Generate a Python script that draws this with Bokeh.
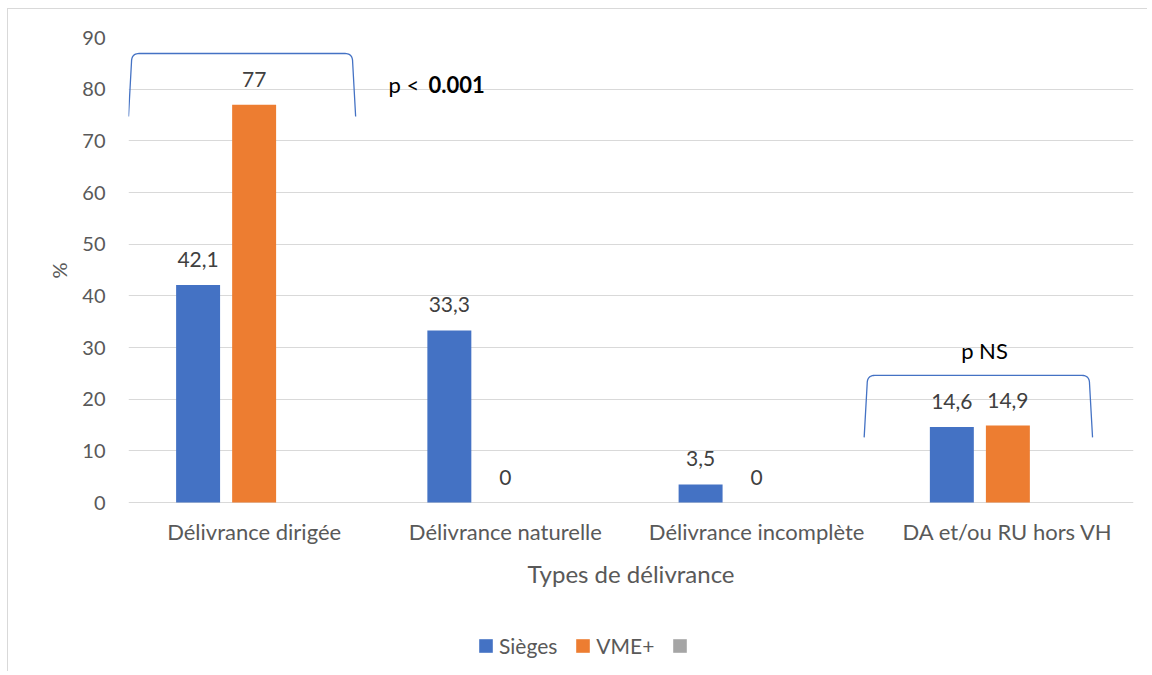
import numpy as np
from bokeh.plotting import figure
from bokeh.models import (ColumnDataSource, FixedTicker, Legend, LegendItem, Label, Range1d, Title)
from bokeh.core.properties import value
from bokeh.embed import file_html
from bokeh.resources import INLINE

categories = ["Délivrance dirigée", "Délivrance naturelle", "Délivrance incomplète", "DA et/ou RU hors VH"]
sieges = [42.1, 33.3, 3.5, 14.6]
vme = [77, 0, 0, 14.9]
third = [None, None, None, None]  # empty third series (grey legend entry only)
sieges_labels = ["42,1", "33,3", "3,5", "14,6"]
vme_labels = ["77", "0", "0", "14,9"]
y_ticks = [0, 10, 20, 30, 40, 50, 60, 70, 80, 90]
x_title = "Types de délivrance"
y_title = "%"

# brackets: (x start, x end, bottom y, top y)
bracket1 = (-0.5, 0.404, 74.7, 86.9)
bracket2 = (2.428, 3.337, 12.6, 24.6)

FONT = "Lato"
W, H = 1140, 663

p = figure(width=W, height=H, output_backend="svg", toolbar_location=None,
           x_range=Range1d(-0.5, 3.5), y_range=Range1d(-32.9, 90),
           x_axis_location=None,
           min_border_left=120, min_border_right=15, min_border_top=28, min_border_bottom=0,
           styles={"margin-left": "7px", "margin-top": "8px",
                   "border-left": "1px solid #d9d9d9", "border-top": "1px solid #d9d9d9"})
p.outline_line_color = None
p.xgrid.grid_line_color = None
p.ygrid.grid_line_color = "#d9d9d9"
p.ygrid.grid_line_width = 1
p.ygrid.ticker = FixedTicker(ticks=y_ticks)
p.yaxis.ticker = FixedTicker(ticks=y_ticks)
ax = p.yaxis[0]
ax.axis_line_color = None
ax.major_tick_line_color = None
ax.minor_tick_line_color = None
ax.major_tick_in = 0
ax.major_tick_out = 0
ax.major_label_text_font = FONT
ax.major_label_text_font_size = "20px"
ax.major_label_text_color = "#595959"
ax.major_label_standoff = 23

p.add_layout(Title(text=y_title, align="left", offset=394, text_font=FONT,
                   text_font_size="20px", text_font_style="normal",
                   text_color="#595959", standoff=17), "left")

off = 0.223
bw = 0.175
xs = np.arange(len(categories))
src1 = ColumnDataSource(dict(x=xs - off, top=sieges, lab=sieges_labels))
src2 = ColumnDataSource(dict(x=xs + 0.0, top=vme, lab=vme_labels))
src3 = ColumnDataSource(dict(x=xs + off, top=np.array(third, dtype=float)))
r1 = p.vbar(x="x", top="top", width=bw, source=src1, fill_color="#4472C4", line_color=None)
r2 = p.vbar(x="x", top="top", width=bw, source=src2, fill_color="#ED7D31", line_color=None)
r3 = p.vbar(x="x", top="top", width=bw, source=src3, fill_color="#A5A5A5", line_color=None)

for s in (src1, src2):
    p.text(x="x", y="top", text="lab", source=s, text_align="center", text_baseline="bottom",
           y_offset=-18, text_font=value(FONT), text_font_size="21px", text_color="#404040")

# category labels and x title (below the zero line)
cat_src = ColumnDataSource(dict(x=xs, y=[-5.61] * len(categories), t=categories))
p.text(x="x", y="y", text="t", source=cat_src, text_align="center", text_baseline="middle",
       text_font=value(FONT), text_font_size="22px", text_color="#595959")
p.add_layout(Label(x=1.5, y=-13.74, text=x_title, text_font=FONT, text_font_size="24px",
                   text_color="#595959", text_align="center", text_baseline="middle"))

def bracket(b):
    x0, x1, yb, yt = b
    dx = 0.012
    r = 0.03
    ry = 1.6
    t = np.linspace(0, 1, 12)
    lx = [x0, x0 + dx]
    ly = [yb, yt - ry]
    cx = (1 - t) ** 2 * (x0 + dx) + 2 * (1 - t) * t * (x0 + dx) + t ** 2 * (x0 + dx + r)
    cy = (1 - t) ** 2 * (yt - ry) + 2 * (1 - t) * t * yt + t ** 2 * yt
    rx = (1 - t) ** 2 * (x1 - dx - r) + 2 * (1 - t) * t * (x1 - dx) + t ** 2 * (x1 - dx)
    ry_ = (1 - t) ** 2 * yt + 2 * (1 - t) * t * yt + t ** 2 * (yt - ry)
    X = lx + list(cx) + list(rx) + [x1]
    Y = ly + list(cy) + list(ry_) + [yb]
    p.line(X, Y, line_color="#4472C4", line_width=1.3)

bracket(bracket1)
bracket(bracket2)

p.add_layout(Label(x=0.535, y=80.9, text="p <", text_font=FONT, text_font_size="22px",
                   text_color="#000000", text_baseline="middle"))
p.add_layout(Label(x=0.694, y=80.9, text="0.001", text_font=FONT, text_font_size="22px",
                   text_font_style="bold", text_color="#000000", text_baseline="middle"))
p.add_layout(Label(x=2.907, y=29.4, text="p NS", text_font=FONT, text_font_size="22px",
                   text_color="#000000", text_baseline="middle", text_align="center"))

legend = Legend(items=[LegendItem(label="Sièges", renderers=[r1]),
                       LegendItem(label="VME+", renderers=[r2]),
                       LegendItem(label="\u00a0", renderers=[r3])],
                orientation="horizontal", location=(349, 14),
                glyph_width=17, glyph_height=17, label_text_font=FONT,
                label_text_font_size="21px", label_text_color="#595959",
                border_line_color=None, background_fill_alpha=0,
                spacing=17, label_standoff=5, margin=0, padding=4)
p.add_layout(legend, "center")

open("out.html", "w").write(file_html(p, INLINE))
